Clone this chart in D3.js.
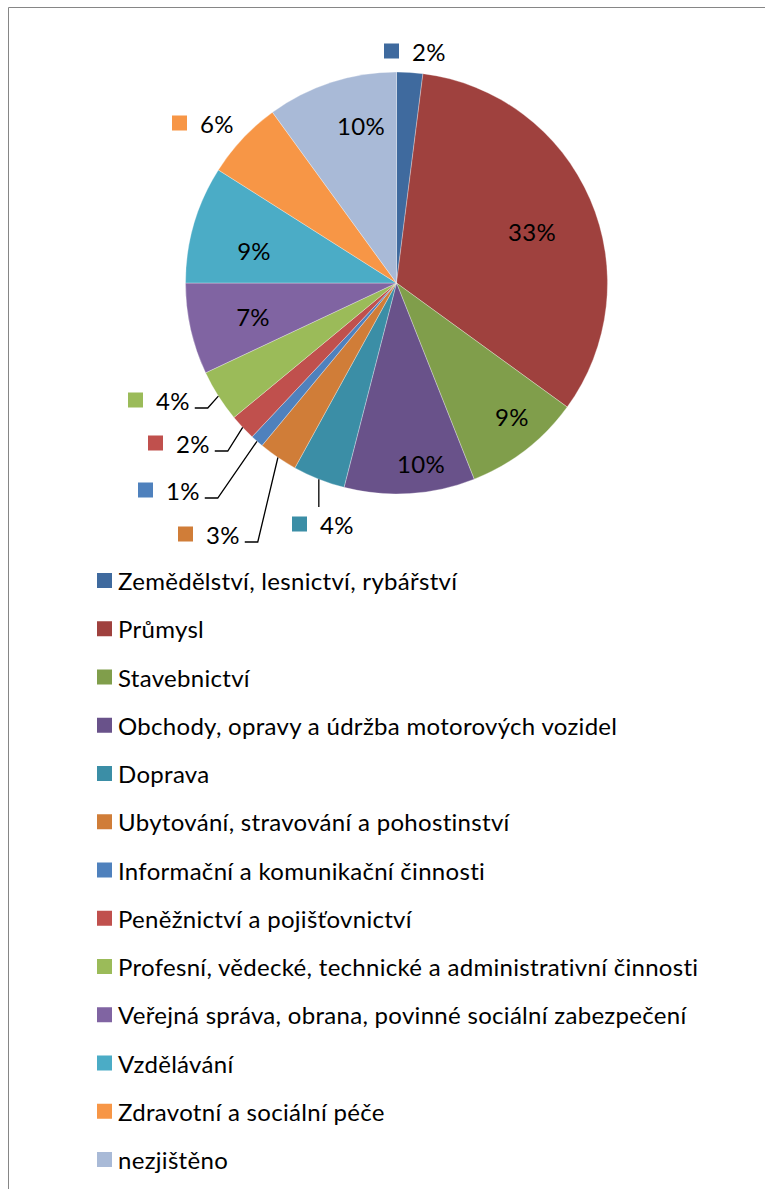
<!DOCTYPE html>
<html>
<head>
<meta charset="utf-8">
<script src="https://cdn.jsdelivr.net/npm/d3@7/dist/d3.min.js"></script>
<style>
  html, body { margin: 0; padding: 0; background: #fff; }
  svg { display: block; }
  text { font-family: Lato, "Open Sans", sans-serif; fill: #000; letter-spacing: 0.3px; }
</style>
</head>
<body>
<svg id="chart" width="765" height="1189"></svg>
<script>
// ---- data ----
const categories = [
  "Zemědělství, lesnictví, rybářství",
  "Průmysl",
  "Stavebnictví",
  "Obchody, opravy a údržba motorových vozidel",
  "Doprava",
  "Ubytování, stravování a pohostinství",
  "Informační a komunikační činnosti",
  "Peněžnictví a pojišťovnictví",
  "Profesní, vědecké, technické a administrativní činnosti",
  "Veřejná správa, obrana, povinné sociální zabezpečení",
  "Vzdělávání",
  "Zdravotní a sociální péče",
  "nezjištěno"
];
const values = [2, 33, 9, 10, 4, 3, 1, 2, 4, 7, 9, 6, 10];
const valueLabels = ["2%", "33%", "9%", "10%", "4%", "3%", "1%", "2%", "4%", "7%", "9%", "6%", "10%"];

// ---- styles / layout ----
const colors = ["#3F6A9E", "#9F413E", "#809E4B", "#69528A", "#3B8EA6", "#D07D38",
                "#4F81BD", "#C0504D", "#9BBB59", "#8064A2", "#4BACC6", "#F79646", "#A9BAD7"];
const cx = 396.5, cy = 283, R = 211;
const fontSize = 24;
// label placement: "in" = text centred at offset; "out" = marker + text, marker left at dx, centre at dy
const labelLayout = [
  {type: "out", dx: -12.5, dy: -232, leader: null},
  {type: "in", dx: 135.5, dy: -52},
  {type: "in", dx: 115.5, dy: 133},
  {type: "in", dx: 24.5, dy: 180},
  {type: "out", dx: -104.5, dy: 241, leader: "down"},
  {type: "out", dx: -218.5, dy: 251, leader: "elbow"},
  {type: "out", dx: -258.5, dy: 207, leader: "elbow"},
  {type: "out", dx: -248.5, dy: 160, leader: "elbow"},
  {type: "out", dx: -268.5, dy: 117, leader: "elbow"},
  {type: "in", dx: -143.5, dy: 33},
  {type: "in", dx: -142.5, dy: -33},
  {type: "out", dx: -224.5, dy: -160, leader: null},
  {type: "in", dx: -35.5, dy: -158}
];

const svg = d3.select("#chart");

// frame
svg.append("path")
  .attr("d", "M8.5,1189 V7.5 H765")
  .attr("fill", "none").attr("stroke", "#868686").attr("stroke-width", 1);

const pie = d3.pie().sort(null).value(d => d)(values);
const arc = d3.arc().innerRadius(0).outerRadius(R);
const edge = d3.arc().innerRadius(R).outerRadius(R);

const g = svg.append("g").attr("transform", `translate(${cx},${cy})`);
g.selectAll("path.slice").data(pie).enter().append("path")
  .attr("class", "slice")
  .attr("d", arc)
  .attr("fill", (d, i) => colors[i])
  .attr("stroke", "rgba(255,255,255,0.5)")
  .attr("stroke-width", 0.6);

// labels
const lg = svg.append("g").attr("transform", `translate(${cx},${cy})`);
pie.forEach((d, i) => {
  const L = labelLayout[i];
  if (L.type === "in") {
    lg.append("text")
      .attr("x", L.dx).attr("y", L.dy)
      .attr("text-anchor", "middle")
      .attr("dominant-baseline", "central")
      .style("font-size", fontSize + "px")
      .text(valueLabels[i]);
  } else {
    lg.append("rect")
      .attr("x", L.dx).attr("y", L.dy - 7.5)
      .attr("width", 15).attr("height", 15)
      .attr("fill", colors[i]);
    const t = lg.append("text")
      .attr("x", L.dx + 28).attr("y", L.dy)
      .attr("dominant-baseline", "central")
      .style("font-size", fontSize + "px")
      .text(valueLabels[i]);
    const p = edge.centroid(d);
    if (L.leader === "elbow") {
      const bb = t.node().getBBox();
      const ex = bb.x + bb.width + 5, ey = L.dy + 8;
      lg.append("path")
        .attr("d", d3.line()([[ex, ey], [ex + 13, ey], p]))
        .attr("fill", "none").attr("stroke", "#000").attr("stroke-width", 1.3);
    } else if (L.leader === "down") {
      lg.append("path")
        .attr("d", d3.line()([p, [p[0], L.dy - 17]]))
        .attr("fill", "none").attr("stroke", "#000").attr("stroke-width", 1.3);
    }
  }
});

// legend
const legendY0 = 580.5, legendStep = 48.25;
const leg = svg.append("g");
categories.forEach((c, i) => {
  const y = legendY0 + i * legendStep;
  leg.append("rect")
    .attr("x", 97).attr("y", y - 7.5)
    .attr("width", 15).attr("height", 15)
    .attr("fill", colors[i]);
  leg.append("text")
    .attr("x", 118).attr("y", y)
    .attr("dominant-baseline", "central")
    .style("font-size", fontSize + "px")
    .text(c);
});
</script>
</body>
</html>
